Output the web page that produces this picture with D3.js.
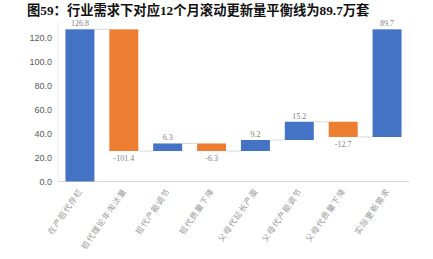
<!DOCTYPE html>
<html><head><meta charset="utf-8">
<script src="https://cdn.jsdelivr.net/npm/d3@7"></script>
<style>body{margin:0;background:#fff}svg{display:block}</style>
</head><body>
<svg id="c" width="433" height="259"></svg>
<script>
const title = "图59：行业需求下对应12个月滚动更新量平衡线为89.7万套";
const categories = ["在产祖代存栏","祖代理论年淘汰量","祖代产能调节","祖代质量下降","父母代延长产蛋","父母代产能调节","父母代质量下降","实际更新需求"];
const values = [126.8, -101.4, 6.3, -6.3, 9.2, 15.2, -12.7, 89.7];
const kinds = ["total","delta","delta","delta","delta","delta","delta","balance"];
const yTicks = [0,20,40,60,80,100,120];

const svg = d3.select("#c");
const L=58, R=409, T=22, B=181.5;
const x = d3.scaleBand().domain(categories).range([L,R]).paddingInner(0.34).paddingOuter(0.17);
const y = d3.scaleLinear().domain([0,120]).range([B, B-144]);

let run = 0;
const bars = categories.map((c,i)=>{
  const v = values[i]; let y0,y1;
  if(kinds[i]==="total"){ y0=0; y1=v; run=v; }
  else if(kinds[i]==="delta"){ y0=run; y1=run+v; run=run+v; }
  else { y0=run; y1=run+v; }
  return {c,v,y0,y1,lo:Math.min(y0,y1),hi:Math.max(y0,y1)};
});

svg.append("text").attr("x",27).attr("y",15).attr("font-family","'Liberation Serif','Noto Sans CJK SC',serif")
  .attr("font-weight","bold").attr("font-size",13.3).attr("fill","#111").text(title);

svg.append("line").attr("x1",L).attr("x2",L).attr("y1",T).attr("y2",B).attr("stroke","#e6e9ef").attr("stroke-width",1);
svg.append("line").attr("x1",L).attr("x2",R).attr("y1",B).attr("y2",B).attr("stroke","#d9d9d9").attr("stroke-width",1);

const ya = svg.append("g").attr("transform",`translate(${L},0)`)
  .call(d3.axisLeft(y).tickValues(yTicks).tickFormat(d3.format(".1f")).tickSize(0).tickPadding(6));
ya.select(".domain").remove();
ya.selectAll("text").attr("font-family","'Liberation Sans',Arial,sans-serif").attr("font-size",9).attr("fill","#595959");

for(let i=0;i<bars.length-1;i++){
  const lvl = bars[i].y1;
  svg.append("line").attr("x1",x(categories[i])+x.bandwidth()).attr("x2",x(categories[i+1]))
    .attr("y1",y(lvl)).attr("y2",y(lvl)).attr("stroke","#d9d9d9").attr("stroke-width",1);
}

svg.selectAll("rect.b").data(bars).enter().append("rect")
  .attr("x",d=>x(d.c)).attr("width",x.bandwidth())
  .attr("y",d=>y(d.hi)).attr("height",d=>y(d.lo)-y(d.hi))
  .attr("fill",d=>d.v<0?"#ED7D31":"#4472C4");

svg.selectAll("text.v").data(bars).enter().append("text")
  .attr("x",d=>x(d.c)+x.bandwidth()/2)
  .attr("y",d=>d.v<0?y(d.lo)+10:y(d.hi)-3)
  .attr("text-anchor","middle").attr("font-family","'Liberation Serif',serif").attr("font-size",8).attr("fill","#7f7f7f")
  .text(d=>d.v.toFixed(1));

svg.selectAll("text.c").data(categories).enter().append("text")
  .attr("transform",d=>`translate(${x(d)+x.bandwidth()/2+3},${191}) rotate(-55)`)
  .attr("text-anchor","end").attr("font-family","'Noto Sans CJK SC',sans-serif").attr("font-size",8)
  .attr("letter-spacing",1).attr("fill","#999").text(d=>d);
</script>
</body></html>
